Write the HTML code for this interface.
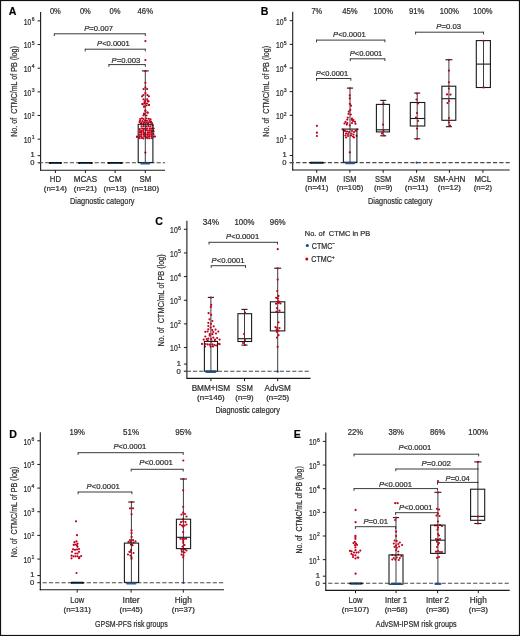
<!DOCTYPE html>
<html><head><meta charset="utf-8"><style>
html,body{margin:0;padding:0;background:#fff;overflow:hidden;}
svg{display:block;font-family:"Liberation Sans", sans-serif;will-change:transform;}
text{stroke:#2e2e2e;stroke-width:0.22px;}
</style></head><body>
<svg width="520" height="636" viewBox="0 0 520 636">
<rect x="0" y="0" width="520" height="636" fill="#fff"/>
<text x="8.8" y="14.8" font-size="10.6" font-weight="bold" fill="#000">A</text>
<line x1="40.60" y1="12.00" x2="40.60" y2="170.60" stroke="#1a1a1a" stroke-width="1.1" />
<line x1="37.60" y1="139.15" x2="40.60" y2="139.15" stroke="#1a1a1a" stroke-width="1" />
<text x="31.40" y="143.05" font-size="8.8" text-anchor="end" fill="#2e2e2e" textLength="7.6" lengthAdjust="spacingAndGlyphs">10</text>
<text x="31.75" y="139.35" font-size="5.1" text-anchor="start" fill="#2e2e2e">1</text>
<line x1="37.60" y1="115.50" x2="40.60" y2="115.50" stroke="#1a1a1a" stroke-width="1" />
<text x="31.40" y="119.40" font-size="8.8" text-anchor="end" fill="#2e2e2e" textLength="7.6" lengthAdjust="spacingAndGlyphs">10</text>
<text x="31.75" y="115.70" font-size="5.1" text-anchor="start" fill="#2e2e2e">2</text>
<line x1="37.60" y1="91.85" x2="40.60" y2="91.85" stroke="#1a1a1a" stroke-width="1" />
<text x="31.40" y="95.75" font-size="8.8" text-anchor="end" fill="#2e2e2e" textLength="7.6" lengthAdjust="spacingAndGlyphs">10</text>
<text x="31.75" y="92.05" font-size="5.1" text-anchor="start" fill="#2e2e2e">3</text>
<line x1="37.60" y1="68.20" x2="40.60" y2="68.20" stroke="#1a1a1a" stroke-width="1" />
<text x="31.40" y="72.10" font-size="8.8" text-anchor="end" fill="#2e2e2e" textLength="7.6" lengthAdjust="spacingAndGlyphs">10</text>
<text x="31.75" y="68.40" font-size="5.1" text-anchor="start" fill="#2e2e2e">4</text>
<line x1="37.60" y1="44.55" x2="40.60" y2="44.55" stroke="#1a1a1a" stroke-width="1" />
<text x="31.40" y="48.45" font-size="8.8" text-anchor="end" fill="#2e2e2e" textLength="7.6" lengthAdjust="spacingAndGlyphs">10</text>
<text x="31.75" y="44.75" font-size="5.1" text-anchor="start" fill="#2e2e2e">5</text>
<line x1="37.60" y1="20.90" x2="40.60" y2="20.90" stroke="#1a1a1a" stroke-width="1" />
<text x="31.40" y="24.80" font-size="8.8" text-anchor="end" fill="#2e2e2e" textLength="7.6" lengthAdjust="spacingAndGlyphs">10</text>
<text x="31.75" y="21.10" font-size="5.1" text-anchor="start" fill="#2e2e2e">6</text>
<line x1="37.60" y1="155.68" x2="40.60" y2="155.68" stroke="#1a1a1a" stroke-width="1" />
<text x="34.70" y="157.38" font-size="7.6" text-anchor="end" fill="#2e2e2e">1</text>
<line x1="37.60" y1="162.80" x2="40.60" y2="162.80" stroke="#1a1a1a" stroke-width="1" />
<text x="34.50" y="165.10" font-size="7.6" text-anchor="end" fill="#2e2e2e">0</text>
<text transform="translate(16.90,91.45) rotate(-90)" x="0" y="0" font-size="8.7" text-anchor="middle" fill="#2e2e2e" textLength="90.70" lengthAdjust="spacingAndGlyphs" style="white-space:pre">No. of  CTMC/mL of PB (log)</text>
<line x1="38.80" y1="162.80" x2="165.00" y2="162.80" stroke="#4a4a4a" stroke-width="1.1" stroke-dasharray="4.2 2.00"/>
<rect x="48.80" y="161.90" width="13.20" height="2.0" rx="0.9" fill="#0a0a0a"/>
<rect x="50.80" y="162.90" width="9.20" height="1.0" fill="#2c64a0" opacity="0.8"/>
<rect x="78.10" y="161.90" width="14.60" height="2.0" rx="0.9" fill="#0a0a0a"/>
<rect x="80.10" y="162.90" width="10.60" height="1.0" fill="#2c64a0" opacity="0.8"/>
<rect x="107.60" y="161.90" width="15.00" height="2.0" rx="0.9" fill="#0a0a0a"/>
<rect x="109.60" y="162.90" width="11.00" height="1.0" fill="#2c64a0" opacity="0.8"/>
<line x1="40.10" y1="170.20" x2="165.00" y2="170.20" stroke="#1a1a1a" stroke-width="1.1" />
<line x1="55.40" y1="170.20" x2="55.40" y2="173.00" stroke="#1a1a1a" stroke-width="1" />
<text x="55.40" y="182.00" font-size="8.2" text-anchor="middle" fill="#2e2e2e" textLength="11.20" lengthAdjust="spacingAndGlyphs" >HD</text>
<text x="55.40" y="190.50" font-size="7.4" text-anchor="middle" fill="#2e2e2e" textLength="23.20" lengthAdjust="spacingAndGlyphs" >(n=14)</text>
<line x1="85.40" y1="170.20" x2="85.40" y2="173.00" stroke="#1a1a1a" stroke-width="1" />
<text x="85.40" y="182.00" font-size="8.2" text-anchor="middle" fill="#2e2e2e" textLength="23.20" lengthAdjust="spacingAndGlyphs" >MCAS</text>
<text x="85.40" y="190.50" font-size="7.4" text-anchor="middle" fill="#2e2e2e" textLength="23.20" lengthAdjust="spacingAndGlyphs" >(n=21)</text>
<line x1="115.10" y1="170.20" x2="115.10" y2="173.00" stroke="#1a1a1a" stroke-width="1" />
<text x="115.10" y="182.00" font-size="8.2" text-anchor="middle" fill="#2e2e2e" textLength="13.00" lengthAdjust="spacingAndGlyphs" >CM</text>
<text x="115.10" y="190.50" font-size="7.4" text-anchor="middle" fill="#2e2e2e" textLength="23.20" lengthAdjust="spacingAndGlyphs" >(n=13)</text>
<line x1="145.30" y1="170.20" x2="145.30" y2="173.00" stroke="#1a1a1a" stroke-width="1" />
<text x="145.30" y="182.00" font-size="8.2" text-anchor="middle" fill="#2e2e2e" textLength="11.70" lengthAdjust="spacingAndGlyphs" >SM</text>
<text x="145.30" y="190.50" font-size="7.4" text-anchor="middle" fill="#2e2e2e" textLength="27.50" lengthAdjust="spacingAndGlyphs" >(n=180)</text>
<text x="102.30" y="204.00" font-size="8.9" text-anchor="middle" fill="#2e2e2e" textLength="64.50" lengthAdjust="spacingAndGlyphs" >Diagnostic category</text>
<text x="55.40" y="14.00" font-size="8.2" text-anchor="middle" fill="#2e2e2e" textLength="11.00" lengthAdjust="spacingAndGlyphs" >0%</text>
<text x="85.40" y="14.00" font-size="8.2" text-anchor="middle" fill="#2e2e2e" textLength="11.00" lengthAdjust="spacingAndGlyphs" >0%</text>
<text x="115.10" y="14.00" font-size="8.2" text-anchor="middle" fill="#2e2e2e" textLength="11.00" lengthAdjust="spacingAndGlyphs" >0%</text>
<text x="145.30" y="14.00" font-size="8.2" text-anchor="middle" fill="#2e2e2e" textLength="15.50" lengthAdjust="spacingAndGlyphs" >46%</text>
<line x1="54.30" y1="33.80" x2="145.30" y2="33.80" stroke="#3a3a3a" stroke-width="1" />
<line x1="54.30" y1="33.30" x2="54.30" y2="36.00" stroke="#3a3a3a" stroke-width="1" />
<line x1="145.30" y1="33.30" x2="145.30" y2="36.00" stroke="#3a3a3a" stroke-width="1" />
<text x="84.20" y="30.60" font-size="7.6" text-anchor="start" fill="#2e2e2e" textLength="28.90" lengthAdjust="spacingAndGlyphs" ><tspan font-style="italic">P</tspan>=0.007</text>
<line x1="85.20" y1="49.20" x2="145.30" y2="49.20" stroke="#3a3a3a" stroke-width="1" />
<line x1="85.20" y1="48.70" x2="85.20" y2="51.40" stroke="#3a3a3a" stroke-width="1" />
<line x1="145.30" y1="48.70" x2="145.30" y2="51.40" stroke="#3a3a3a" stroke-width="1" />
<text x="97.10" y="46.00" font-size="7.6" text-anchor="start" fill="#2e2e2e" textLength="32.70" lengthAdjust="spacingAndGlyphs" ><tspan font-style="italic">P</tspan>&lt;0.0001</text>
<line x1="108.90" y1="64.60" x2="145.30" y2="64.60" stroke="#3a3a3a" stroke-width="1" />
<line x1="108.90" y1="64.10" x2="108.90" y2="66.80" stroke="#3a3a3a" stroke-width="1" />
<line x1="145.30" y1="64.10" x2="145.30" y2="66.80" stroke="#3a3a3a" stroke-width="1" />
<text x="111.50" y="62.50" font-size="7.6" text-anchor="start" fill="#2e2e2e" textLength="28.90" lengthAdjust="spacingAndGlyphs" ><tspan font-style="italic">P</tspan>=0.003</text>
<line x1="145.30" y1="70.90" x2="145.30" y2="124.30" stroke="#262626" stroke-width="0.9" />
<line x1="141.90" y1="70.90" x2="148.70" y2="70.90" stroke="#1a1a1a" stroke-width="1.1" />
<circle cx="145.40" cy="41.10" r="1.1" fill="#c4001c"/>
<circle cx="145.40" cy="60.10" r="1.1" fill="#c4001c"/>
<circle cx="145.40" cy="71.20" r="1.1" fill="#c4001c"/>
<circle cx="145.40" cy="82.80" r="1.1" fill="#c4001c"/>
<circle cx="145.40" cy="87.30" r="1.1" fill="#c4001c"/>
<circle cx="143.60" cy="89.10" r="1.1" fill="#c4001c"/>
<circle cx="147.10" cy="89.10" r="1.1" fill="#c4001c"/>
<circle cx="145.40" cy="93.20" r="1.1" fill="#c4001c"/>
<circle cx="143.40" cy="95.10" r="1.1" fill="#c4001c"/>
<circle cx="147.40" cy="95.10" r="1.1" fill="#c4001c"/>
<circle cx="142.10" cy="96.30" r="1.1" fill="#c4001c"/>
<circle cx="148.90" cy="96.30" r="1.1" fill="#c4001c"/>
<circle cx="143.50" cy="99.30" r="1.1" fill="#c4001c"/>
<circle cx="147.20" cy="99.30" r="1.1" fill="#c4001c"/>
<circle cx="148.50" cy="101.40" r="1.1" fill="#c4001c"/>
<circle cx="144.50" cy="102.20" r="1.1" fill="#c4001c"/>
<circle cx="142.50" cy="104.20" r="1.1" fill="#c4001c"/>
<circle cx="148.90" cy="104.80" r="1.1" fill="#c4001c"/>
<circle cx="144.20" cy="106.50" r="1.1" fill="#c4001c"/>
<circle cx="146.50" cy="105.50" r="1.1" fill="#c4001c"/>
<circle cx="145.40" cy="110.80" r="1.1" fill="#c4001c"/>
<circle cx="147.80" cy="112.70" r="1.1" fill="#c4001c"/>
<circle cx="144.00" cy="113.60" r="1.1" fill="#c4001c"/>
<circle cx="145.40" cy="152.60" r="1.1" fill="#c4001c"/>
<circle cx="137.00" cy="136.50" r="1.1" fill="#c4001c"/>
<circle cx="154.00" cy="136.50" r="1.1" fill="#c4001c"/>
<circle cx="153.30" cy="128.50" r="1.1" fill="#c4001c"/>
<circle cx="153.30" cy="131.00" r="1.1" fill="#c4001c"/>
<circle cx="145.30" cy="100.50" r="1.1" fill="#c4001c"/>
<circle cx="147.80" cy="101.20" r="1.1" fill="#c4001c"/>
<circle cx="142.50" cy="104.00" r="1.1" fill="#c4001c"/>
<circle cx="144.50" cy="103.50" r="1.1" fill="#c4001c"/>
<circle cx="147.00" cy="103.50" r="1.1" fill="#c4001c"/>
<circle cx="149.00" cy="105.00" r="1.1" fill="#c4001c"/>
<circle cx="144.00" cy="106.70" r="1.1" fill="#c4001c"/>
<circle cx="145.30" cy="110.60" r="1.1" fill="#c4001c"/>
<circle cx="147.30" cy="112.50" r="1.1" fill="#c4001c"/>
<circle cx="144.50" cy="114.20" r="1.1" fill="#c4001c"/>
<circle cx="143.50" cy="115.30" r="1.1" fill="#c4001c"/>
<circle cx="146.50" cy="115.50" r="1.1" fill="#c4001c"/>
<circle cx="142.00" cy="118.30" r="1.1" fill="#c4001c"/>
<circle cx="140.20" cy="119.00" r="1.1" fill="#c4001c"/>
<circle cx="143.50" cy="119.00" r="1.1" fill="#c4001c"/>
<circle cx="146.50" cy="118.50" r="1.1" fill="#c4001c"/>
<circle cx="148.80" cy="118.80" r="1.1" fill="#c4001c"/>
<circle cx="150.50" cy="119.30" r="1.1" fill="#c4001c"/>
<circle cx="140.00" cy="120.80" r="1.1" fill="#c4001c"/>
<circle cx="142.50" cy="121.00" r="1.1" fill="#c4001c"/>
<circle cx="145.00" cy="120.50" r="1.1" fill="#c4001c"/>
<circle cx="147.00" cy="120.80" r="1.1" fill="#c4001c"/>
<circle cx="149.50" cy="121.00" r="1.1" fill="#c4001c"/>
<circle cx="151.00" cy="121.50" r="1.1" fill="#c4001c"/>
<circle cx="139.50" cy="122.00" r="1.1" fill="#c4001c"/>
<circle cx="141.50" cy="122.50" r="1.1" fill="#c4001c"/>
<circle cx="144.00" cy="122.30" r="1.1" fill="#c4001c"/>
<circle cx="146.50" cy="122.50" r="1.1" fill="#c4001c"/>
<circle cx="148.50" cy="122.50" r="1.1" fill="#c4001c"/>
<circle cx="150.50" cy="122.50" r="1.1" fill="#c4001c"/>
<circle cx="152.00" cy="123.00" r="1.1" fill="#c4001c"/>
<circle cx="141.00" cy="123.50" r="1.1" fill="#c4001c"/>
<circle cx="143.50" cy="123.80" r="1.1" fill="#c4001c"/>
<circle cx="148.00" cy="123.80" r="1.1" fill="#c4001c"/>
<circle cx="141.50" cy="126.40" r="1.1" fill="#c4001c"/>
<circle cx="143.60" cy="126.20" r="1.1" fill="#c4001c"/>
<circle cx="146.00" cy="126.30" r="1.1" fill="#c4001c"/>
<circle cx="148.20" cy="126.20" r="1.1" fill="#c4001c"/>
<circle cx="150.30" cy="126.40" r="1.1" fill="#c4001c"/>
<circle cx="152.50" cy="125.60" r="1.1" fill="#c4001c"/>
<circle cx="137.00" cy="137.00" r="1.1" fill="#c4001c"/>
<circle cx="155.00" cy="136.50" r="1.1" fill="#c4001c"/>
<circle cx="153.50" cy="128.50" r="1.1" fill="#c4001c"/>
<circle cx="153.50" cy="131.50" r="1.1" fill="#c4001c"/>
<circle cx="153.50" cy="134.00" r="1.1" fill="#c4001c"/>
<circle cx="139.82" cy="129.05" r="1.1" fill="#c4001c"/>
<circle cx="142.12" cy="128.63" r="1.1" fill="#c4001c"/>
<circle cx="143.91" cy="128.96" r="1.1" fill="#c4001c"/>
<circle cx="145.78" cy="128.49" r="1.1" fill="#c4001c"/>
<circle cx="147.22" cy="128.71" r="1.1" fill="#c4001c"/>
<circle cx="149.75" cy="128.60" r="1.1" fill="#c4001c"/>
<circle cx="151.50" cy="128.65" r="1.1" fill="#c4001c"/>
<circle cx="140.08" cy="131.01" r="1.1" fill="#c4001c"/>
<circle cx="141.67" cy="131.05" r="1.1" fill="#c4001c"/>
<circle cx="143.35" cy="130.90" r="1.1" fill="#c4001c"/>
<circle cx="145.95" cy="130.37" r="1.1" fill="#c4001c"/>
<circle cx="147.76" cy="130.70" r="1.1" fill="#c4001c"/>
<circle cx="149.91" cy="130.42" r="1.1" fill="#c4001c"/>
<circle cx="151.53" cy="130.96" r="1.1" fill="#c4001c"/>
<circle cx="139.91" cy="132.35" r="1.1" fill="#c4001c"/>
<circle cx="141.42" cy="132.85" r="1.1" fill="#c4001c"/>
<circle cx="143.68" cy="132.90" r="1.1" fill="#c4001c"/>
<circle cx="145.36" cy="132.75" r="1.1" fill="#c4001c"/>
<circle cx="147.85" cy="132.84" r="1.1" fill="#c4001c"/>
<circle cx="149.16" cy="132.40" r="1.1" fill="#c4001c"/>
<circle cx="151.14" cy="132.70" r="1.1" fill="#c4001c"/>
<circle cx="139.68" cy="134.72" r="1.1" fill="#c4001c"/>
<circle cx="141.65" cy="134.57" r="1.1" fill="#c4001c"/>
<circle cx="143.99" cy="134.14" r="1.1" fill="#c4001c"/>
<circle cx="145.70" cy="134.72" r="1.1" fill="#c4001c"/>
<circle cx="147.62" cy="134.24" r="1.1" fill="#c4001c"/>
<circle cx="149.36" cy="134.58" r="1.1" fill="#c4001c"/>
<circle cx="151.25" cy="134.43" r="1.1" fill="#c4001c"/>
<circle cx="139.84" cy="136.24" r="1.1" fill="#c4001c"/>
<circle cx="141.45" cy="136.33" r="1.1" fill="#c4001c"/>
<circle cx="144.03" cy="136.06" r="1.1" fill="#c4001c"/>
<circle cx="145.52" cy="136.53" r="1.1" fill="#c4001c"/>
<circle cx="147.66" cy="136.02" r="1.1" fill="#c4001c"/>
<circle cx="149.16" cy="136.40" r="1.1" fill="#c4001c"/>
<circle cx="151.38" cy="136.17" r="1.1" fill="#c4001c"/>
<circle cx="139.62" cy="138.16" r="1.1" fill="#c4001c"/>
<circle cx="141.93" cy="137.90" r="1.1" fill="#c4001c"/>
<circle cx="143.36" cy="138.44" r="1.1" fill="#c4001c"/>
<circle cx="145.98" cy="137.67" r="1.1" fill="#c4001c"/>
<circle cx="147.65" cy="138.20" r="1.1" fill="#c4001c"/>
<circle cx="149.47" cy="138.24" r="1.1" fill="#c4001c"/>
<circle cx="151.87" cy="138.12" r="1.1" fill="#c4001c"/>
<rect x="138.20" y="124.30" width="14.70" height="38.20" fill="none" stroke="#1a1a1a" stroke-width="1.1"/>
<line x1="145.30" y1="124.30" x2="145.30" y2="162.50" stroke="#262626" stroke-width="0.9" />
<rect x="140.30" y="162.20" width="10.00" height="2.3" rx="1" fill="#1d4a80" opacity="0.9"/>
<text x="260.7" y="14.6" font-size="10.6" font-weight="bold" fill="#000">B</text>
<line x1="292.70" y1="11.70" x2="292.70" y2="170.60" stroke="#1a1a1a" stroke-width="1.1" />
<line x1="289.70" y1="138.95" x2="292.70" y2="138.95" stroke="#1a1a1a" stroke-width="1" />
<text x="283.50" y="142.85" font-size="8.8" text-anchor="end" fill="#2e2e2e" textLength="7.6" lengthAdjust="spacingAndGlyphs">10</text>
<text x="283.85" y="139.15" font-size="5.1" text-anchor="start" fill="#2e2e2e">1</text>
<line x1="289.70" y1="115.30" x2="292.70" y2="115.30" stroke="#1a1a1a" stroke-width="1" />
<text x="283.50" y="119.20" font-size="8.8" text-anchor="end" fill="#2e2e2e" textLength="7.6" lengthAdjust="spacingAndGlyphs">10</text>
<text x="283.85" y="115.50" font-size="5.1" text-anchor="start" fill="#2e2e2e">2</text>
<line x1="289.70" y1="91.65" x2="292.70" y2="91.65" stroke="#1a1a1a" stroke-width="1" />
<text x="283.50" y="95.55" font-size="8.8" text-anchor="end" fill="#2e2e2e" textLength="7.6" lengthAdjust="spacingAndGlyphs">10</text>
<text x="283.85" y="91.85" font-size="5.1" text-anchor="start" fill="#2e2e2e">3</text>
<line x1="289.70" y1="68.00" x2="292.70" y2="68.00" stroke="#1a1a1a" stroke-width="1" />
<text x="283.50" y="71.90" font-size="8.8" text-anchor="end" fill="#2e2e2e" textLength="7.6" lengthAdjust="spacingAndGlyphs">10</text>
<text x="283.85" y="68.20" font-size="5.1" text-anchor="start" fill="#2e2e2e">4</text>
<line x1="289.70" y1="44.35" x2="292.70" y2="44.35" stroke="#1a1a1a" stroke-width="1" />
<text x="283.50" y="48.25" font-size="8.8" text-anchor="end" fill="#2e2e2e" textLength="7.6" lengthAdjust="spacingAndGlyphs">10</text>
<text x="283.85" y="44.55" font-size="5.1" text-anchor="start" fill="#2e2e2e">5</text>
<line x1="289.70" y1="20.70" x2="292.70" y2="20.70" stroke="#1a1a1a" stroke-width="1" />
<text x="283.50" y="24.60" font-size="8.8" text-anchor="end" fill="#2e2e2e" textLength="7.6" lengthAdjust="spacingAndGlyphs">10</text>
<text x="283.85" y="20.90" font-size="5.1" text-anchor="start" fill="#2e2e2e">6</text>
<line x1="289.70" y1="155.48" x2="292.70" y2="155.48" stroke="#1a1a1a" stroke-width="1" />
<text x="286.80" y="157.18" font-size="7.6" text-anchor="end" fill="#2e2e2e">1</text>
<line x1="289.70" y1="162.60" x2="292.70" y2="162.60" stroke="#1a1a1a" stroke-width="1" />
<text x="286.60" y="164.90" font-size="7.6" text-anchor="end" fill="#2e2e2e">0</text>
<text transform="translate(269.00,91.30) rotate(-90)" x="0" y="0" font-size="8.7" text-anchor="middle" fill="#2e2e2e" textLength="90.70" lengthAdjust="spacingAndGlyphs" style="white-space:pre">No. of  CTMC/mL of PB (log)</text>
<line x1="289.75" y1="162.60" x2="509.70" y2="162.60" stroke="#4a4a4a" stroke-width="1.1" stroke-dasharray="4.2 2.15"/>
<line x1="292.20" y1="170.00" x2="509.70" y2="170.00" stroke="#1a1a1a" stroke-width="1.1" />
<line x1="316.70" y1="170.00" x2="316.70" y2="172.80" stroke="#1a1a1a" stroke-width="1" />
<text x="316.70" y="181.50" font-size="8.2" text-anchor="middle" fill="#2e2e2e" textLength="19.20" lengthAdjust="spacingAndGlyphs" >BMM</text>
<text x="316.70" y="190.30" font-size="7.4" text-anchor="middle" fill="#2e2e2e" textLength="23.20" lengthAdjust="spacingAndGlyphs" >(n=41)</text>
<line x1="349.90" y1="170.00" x2="349.90" y2="172.80" stroke="#1a1a1a" stroke-width="1" />
<text x="349.90" y="181.50" font-size="8.2" text-anchor="middle" fill="#2e2e2e" textLength="13.20" lengthAdjust="spacingAndGlyphs" >ISM</text>
<text x="349.90" y="190.30" font-size="7.4" text-anchor="middle" fill="#2e2e2e" textLength="27.00" lengthAdjust="spacingAndGlyphs" >(n=105)</text>
<line x1="383.20" y1="170.00" x2="383.20" y2="172.80" stroke="#1a1a1a" stroke-width="1" />
<text x="383.20" y="181.50" font-size="8.2" text-anchor="middle" fill="#2e2e2e" textLength="16.20" lengthAdjust="spacingAndGlyphs" >SSM</text>
<text x="383.20" y="190.30" font-size="7.4" text-anchor="middle" fill="#2e2e2e" textLength="18.50" lengthAdjust="spacingAndGlyphs" >(n=9)</text>
<line x1="416.60" y1="170.00" x2="416.60" y2="172.80" stroke="#1a1a1a" stroke-width="1" />
<text x="416.60" y="181.50" font-size="8.2" text-anchor="middle" fill="#2e2e2e" textLength="16.80" lengthAdjust="spacingAndGlyphs" >ASM</text>
<text x="416.60" y="190.30" font-size="7.4" text-anchor="middle" fill="#2e2e2e" textLength="23.60" lengthAdjust="spacingAndGlyphs" >(n=11)</text>
<line x1="449.40" y1="170.00" x2="449.40" y2="172.80" stroke="#1a1a1a" stroke-width="1" />
<text x="449.40" y="181.50" font-size="8.2" text-anchor="middle" fill="#2e2e2e" textLength="31.90" lengthAdjust="spacingAndGlyphs" >SM-AHN</text>
<text x="449.40" y="190.30" font-size="7.4" text-anchor="middle" fill="#2e2e2e" textLength="23.10" lengthAdjust="spacingAndGlyphs" >(n=12)</text>
<line x1="482.90" y1="170.00" x2="482.90" y2="172.80" stroke="#1a1a1a" stroke-width="1" />
<text x="482.90" y="181.50" font-size="8.2" text-anchor="middle" fill="#2e2e2e" textLength="16.80" lengthAdjust="spacingAndGlyphs" >MCL</text>
<text x="482.90" y="190.30" font-size="7.4" text-anchor="middle" fill="#2e2e2e" textLength="18.50" lengthAdjust="spacingAndGlyphs" >(n=2)</text>
<text x="400.20" y="203.60" font-size="8.9" text-anchor="middle" fill="#2e2e2e" textLength="64.20" lengthAdjust="spacingAndGlyphs" >Diagnostic category</text>
<text x="316.70" y="14.40" font-size="8.2" text-anchor="middle" fill="#2e2e2e" textLength="10.60" lengthAdjust="spacingAndGlyphs" >7%</text>
<text x="349.90" y="14.40" font-size="8.2" text-anchor="middle" fill="#2e2e2e" textLength="15.40" lengthAdjust="spacingAndGlyphs" >45%</text>
<text x="383.20" y="14.40" font-size="8.2" text-anchor="middle" fill="#2e2e2e" textLength="19.30" lengthAdjust="spacingAndGlyphs" >100%</text>
<text x="416.60" y="14.40" font-size="8.2" text-anchor="middle" fill="#2e2e2e" textLength="15.40" lengthAdjust="spacingAndGlyphs" >91%</text>
<text x="449.40" y="14.40" font-size="8.2" text-anchor="middle" fill="#2e2e2e" textLength="19.30" lengthAdjust="spacingAndGlyphs" >100%</text>
<text x="482.90" y="14.40" font-size="8.2" text-anchor="middle" fill="#2e2e2e" textLength="19.30" lengthAdjust="spacingAndGlyphs" >100%</text>
<line x1="316.50" y1="40.10" x2="384.90" y2="40.10" stroke="#3a3a3a" stroke-width="1" />
<line x1="316.50" y1="39.60" x2="316.50" y2="42.30" stroke="#3a3a3a" stroke-width="1" />
<line x1="384.90" y1="39.60" x2="384.90" y2="42.30" stroke="#3a3a3a" stroke-width="1" />
<text x="333.10" y="37.30" font-size="7.6" text-anchor="start" fill="#2e2e2e" textLength="32.60" lengthAdjust="spacingAndGlyphs" ><tspan font-style="italic">P</tspan>&lt;0.0001</text>
<line x1="350.30" y1="58.80" x2="384.90" y2="58.80" stroke="#3a3a3a" stroke-width="1" />
<line x1="350.30" y1="58.30" x2="350.30" y2="61.00" stroke="#3a3a3a" stroke-width="1" />
<line x1="384.90" y1="58.30" x2="384.90" y2="61.00" stroke="#3a3a3a" stroke-width="1" />
<text x="349.70" y="55.80" font-size="7.6" text-anchor="start" fill="#2e2e2e" textLength="32.60" lengthAdjust="spacingAndGlyphs" ><tspan font-style="italic">P</tspan>&lt;0.0001</text>
<line x1="316.50" y1="78.50" x2="350.80" y2="78.50" stroke="#3a3a3a" stroke-width="1" />
<line x1="316.50" y1="78.00" x2="316.50" y2="80.70" stroke="#3a3a3a" stroke-width="1" />
<line x1="350.80" y1="78.00" x2="350.80" y2="80.70" stroke="#3a3a3a" stroke-width="1" />
<text x="315.80" y="75.80" font-size="7.6" text-anchor="start" fill="#2e2e2e" textLength="32.40" lengthAdjust="spacingAndGlyphs" ><tspan font-style="italic">P</tspan>&lt;0.0001</text>
<line x1="415.60" y1="32.20" x2="483.50" y2="32.20" stroke="#3a3a3a" stroke-width="1" />
<line x1="415.60" y1="31.70" x2="415.60" y2="34.40" stroke="#3a3a3a" stroke-width="1" />
<line x1="483.50" y1="31.70" x2="483.50" y2="34.40" stroke="#3a3a3a" stroke-width="1" />
<text x="436.20" y="29.40" font-size="7.6" text-anchor="start" fill="#2e2e2e" textLength="24.90" lengthAdjust="spacingAndGlyphs" ><tspan font-style="italic">P</tspan>=0.03</text>
<rect x="309.60" y="161.70" width="14.20" height="2.0" rx="0.9" fill="#0a0a0a"/>
<rect x="311.60" y="162.70" width="10.20" height="1.0" fill="#2c64a0" opacity="0.8"/>
<circle cx="316.90" cy="125.80" r="1.1" fill="#c4001c"/>
<circle cx="316.90" cy="132.70" r="1.1" fill="#c4001c"/>
<circle cx="316.90" cy="136.00" r="1.1" fill="#c4001c"/>
<line x1="350.00" y1="88.10" x2="350.00" y2="129.10" stroke="#262626" stroke-width="0.9" />
<line x1="346.90" y1="88.10" x2="353.10" y2="88.10" stroke="#1a1a1a" stroke-width="1.1" />
<circle cx="349.80" cy="88.30" r="1.1" fill="#c4001c"/>
<circle cx="349.80" cy="95.40" r="1.1" fill="#c4001c"/>
<circle cx="349.80" cy="98.40" r="1.1" fill="#c4001c"/>
<circle cx="349.80" cy="103.90" r="1.1" fill="#c4001c"/>
<circle cx="351.00" cy="105.70" r="1.1" fill="#c4001c"/>
<circle cx="350.30" cy="109.90" r="1.1" fill="#c4001c"/>
<circle cx="348.80" cy="111.70" r="1.1" fill="#c4001c"/>
<circle cx="348.50" cy="114.00" r="1.1" fill="#c4001c"/>
<circle cx="350.80" cy="114.50" r="1.1" fill="#c4001c"/>
<circle cx="347.80" cy="117.60" r="1.1" fill="#c4001c"/>
<circle cx="352.00" cy="118.50" r="1.1" fill="#c4001c"/>
<circle cx="347.30" cy="119.60" r="1.1" fill="#c4001c"/>
<circle cx="353.50" cy="120.00" r="1.1" fill="#c4001c"/>
<circle cx="345.50" cy="121.80" r="1.1" fill="#c4001c"/>
<circle cx="355.00" cy="121.80" r="1.1" fill="#c4001c"/>
<circle cx="344.50" cy="123.50" r="1.1" fill="#c4001c"/>
<circle cx="347.20" cy="123.20" r="1.1" fill="#c4001c"/>
<circle cx="352.00" cy="123.00" r="1.1" fill="#c4001c"/>
<circle cx="355.50" cy="123.80" r="1.1" fill="#c4001c"/>
<circle cx="351.80" cy="119.80" r="1.1" fill="#c4001c"/>
<circle cx="353.00" cy="120.90" r="1.1" fill="#c4001c"/>
<circle cx="346.80" cy="124.60" r="1.1" fill="#c4001c"/>
<circle cx="349.80" cy="125.30" r="1.1" fill="#c4001c"/>
<circle cx="342.50" cy="129.30" r="1.1" fill="#c4001c"/>
<circle cx="357.50" cy="129.30" r="1.1" fill="#c4001c"/>
<circle cx="345.00" cy="131.00" r="1.1" fill="#c4001c"/>
<circle cx="347.00" cy="131.50" r="1.1" fill="#c4001c"/>
<circle cx="349.00" cy="132.00" r="1.1" fill="#c4001c"/>
<circle cx="352.00" cy="131.00" r="1.1" fill="#c4001c"/>
<circle cx="354.00" cy="132.00" r="1.1" fill="#c4001c"/>
<circle cx="346.00" cy="133.50" r="1.1" fill="#c4001c"/>
<circle cx="348.00" cy="134.00" r="1.1" fill="#c4001c"/>
<circle cx="351.50" cy="133.50" r="1.1" fill="#c4001c"/>
<circle cx="353.50" cy="134.50" r="1.1" fill="#c4001c"/>
<circle cx="345.50" cy="135.50" r="1.1" fill="#c4001c"/>
<circle cx="348.00" cy="136.00" r="1.1" fill="#c4001c"/>
<circle cx="351.00" cy="135.50" r="1.1" fill="#c4001c"/>
<circle cx="353.00" cy="136.50" r="1.1" fill="#c4001c"/>
<circle cx="356.50" cy="135.80" r="1.1" fill="#c4001c"/>
<circle cx="346.00" cy="137.50" r="1.1" fill="#c4001c"/>
<circle cx="354.00" cy="137.50" r="1.1" fill="#c4001c"/>
<circle cx="344.50" cy="130.50" r="1.1" fill="#c4001c"/>
<circle cx="355.50" cy="130.80" r="1.1" fill="#c4001c"/>
<circle cx="349.80" cy="152.30" r="1.1" fill="#c4001c"/>
<rect x="343.40" y="129.10" width="13.50" height="33.10" fill="none" stroke="#1a1a1a" stroke-width="1.1"/>
<line x1="350.00" y1="129.10" x2="350.00" y2="162.20" stroke="#262626" stroke-width="0.9" />
<rect x="345.00" y="162.00" width="10.00" height="2.3" rx="1" fill="#1d4a80" opacity="0.9"/>
<line x1="383.20" y1="100.40" x2="383.20" y2="135.80" stroke="#262626" stroke-width="0.9" />
<line x1="380.20" y1="100.40" x2="386.20" y2="100.40" stroke="#1a1a1a" stroke-width="1.1" />
<line x1="380.20" y1="135.80" x2="386.20" y2="135.80" stroke="#1a1a1a" stroke-width="1.1" />
<rect x="376.40" y="104.40" width="13.10" height="27.50" fill="none" stroke="#1a1a1a" stroke-width="1.1"/>
<line x1="376.40" y1="129.80" x2="389.50" y2="129.80" stroke="#1a1a1a" stroke-width="1.1" />
<circle cx="383.50" cy="103.00" r="1.1" fill="#c4001c"/>
<circle cx="383.00" cy="124.60" r="1.1" fill="#c4001c"/>
<circle cx="383.50" cy="130.20" r="1.1" fill="#c4001c"/>
<circle cx="382.00" cy="133.40" r="1.1" fill="#c4001c"/>
<circle cx="384.00" cy="135.50" r="1.1" fill="#c4001c"/>
<line x1="417.20" y1="93.10" x2="417.20" y2="138.80" stroke="#262626" stroke-width="0.9" />
<line x1="414.20" y1="93.10" x2="420.20" y2="93.10" stroke="#1a1a1a" stroke-width="1.1" />
<line x1="414.20" y1="138.80" x2="420.20" y2="138.80" stroke="#1a1a1a" stroke-width="1.1" />
<rect x="410.30" y="102.50" width="14.50" height="23.50" fill="none" stroke="#1a1a1a" stroke-width="1.1"/>
<line x1="410.30" y1="118.50" x2="424.80" y2="118.50" stroke="#1a1a1a" stroke-width="1.1" />
<circle cx="417.00" cy="93.50" r="1.1" fill="#c4001c"/>
<circle cx="416.50" cy="99.50" r="1.1" fill="#c4001c"/>
<circle cx="418.00" cy="103.50" r="1.1" fill="#c4001c"/>
<circle cx="417.00" cy="113.00" r="1.1" fill="#c4001c"/>
<circle cx="416.00" cy="117.50" r="1.1" fill="#c4001c"/>
<circle cx="418.00" cy="121.00" r="1.1" fill="#c4001c"/>
<circle cx="417.00" cy="128.50" r="1.1" fill="#c4001c"/>
<circle cx="417.00" cy="138.80" r="1.1" fill="#c4001c"/>
<circle cx="416.60" cy="162.60" r="1.1" fill="#0b4a8a"/>
<line x1="448.90" y1="59.75" x2="448.90" y2="126.70" stroke="#262626" stroke-width="0.9" />
<line x1="445.40" y1="59.75" x2="452.40" y2="59.75" stroke="#1a1a1a" stroke-width="1.1" />
<line x1="445.90" y1="126.70" x2="451.90" y2="126.70" stroke="#1a1a1a" stroke-width="1.1" />
<rect x="441.90" y="86.20" width="13.90" height="34.10" fill="none" stroke="#1a1a1a" stroke-width="1.1"/>
<line x1="441.90" y1="98.70" x2="455.80" y2="98.70" stroke="#1a1a1a" stroke-width="1.1" />
<circle cx="448.90" cy="59.75" r="1.1" fill="#c4001c"/>
<circle cx="448.90" cy="70.60" r="1.1" fill="#c4001c"/>
<circle cx="448.90" cy="82.25" r="1.1" fill="#c4001c"/>
<circle cx="448.90" cy="88.50" r="1.1" fill="#c4001c"/>
<circle cx="447.00" cy="94.40" r="1.1" fill="#c4001c"/>
<circle cx="450.50" cy="94.60" r="1.1" fill="#c4001c"/>
<circle cx="449.00" cy="101.00" r="1.1" fill="#c4001c"/>
<circle cx="447.50" cy="103.00" r="1.1" fill="#c4001c"/>
<circle cx="449.00" cy="118.00" r="1.1" fill="#c4001c"/>
<circle cx="449.00" cy="122.50" r="1.1" fill="#c4001c"/>
<circle cx="450.00" cy="125.50" r="1.1" fill="#c4001c"/>
<rect x="476.30" y="40.60" width="14.10" height="46.90" fill="none" stroke="#1a1a1a" stroke-width="1.1"/>
<line x1="476.30" y1="64.10" x2="490.40" y2="64.10" stroke="#1a1a1a" stroke-width="1.1" />
<line x1="483.50" y1="40.60" x2="483.50" y2="87.50" stroke="#262626" stroke-width="0.9" />
<circle cx="483.50" cy="40.80" r="1.1" fill="#c4001c"/>
<circle cx="483.50" cy="87.40" r="1.1" fill="#c4001c"/>
<text x="155.2" y="225.4" font-size="10.6" font-weight="bold" fill="#000">C</text>
<line x1="186.90" y1="220.80" x2="186.90" y2="378.60" stroke="#1a1a1a" stroke-width="1.1" />
<line x1="183.90" y1="347.55" x2="186.90" y2="347.55" stroke="#1a1a1a" stroke-width="1" />
<text x="177.70" y="351.45" font-size="8.8" text-anchor="end" fill="#2e2e2e" textLength="7.6" lengthAdjust="spacingAndGlyphs">10</text>
<text x="178.05" y="347.75" font-size="5.1" text-anchor="start" fill="#2e2e2e">1</text>
<line x1="183.90" y1="323.90" x2="186.90" y2="323.90" stroke="#1a1a1a" stroke-width="1" />
<text x="177.70" y="327.80" font-size="8.8" text-anchor="end" fill="#2e2e2e" textLength="7.6" lengthAdjust="spacingAndGlyphs">10</text>
<text x="178.05" y="324.10" font-size="5.1" text-anchor="start" fill="#2e2e2e">2</text>
<line x1="183.90" y1="300.25" x2="186.90" y2="300.25" stroke="#1a1a1a" stroke-width="1" />
<text x="177.70" y="304.15" font-size="8.8" text-anchor="end" fill="#2e2e2e" textLength="7.6" lengthAdjust="spacingAndGlyphs">10</text>
<text x="178.05" y="300.45" font-size="5.1" text-anchor="start" fill="#2e2e2e">3</text>
<line x1="183.90" y1="276.60" x2="186.90" y2="276.60" stroke="#1a1a1a" stroke-width="1" />
<text x="177.70" y="280.50" font-size="8.8" text-anchor="end" fill="#2e2e2e" textLength="7.6" lengthAdjust="spacingAndGlyphs">10</text>
<text x="178.05" y="276.80" font-size="5.1" text-anchor="start" fill="#2e2e2e">4</text>
<line x1="183.90" y1="252.95" x2="186.90" y2="252.95" stroke="#1a1a1a" stroke-width="1" />
<text x="177.70" y="256.85" font-size="8.8" text-anchor="end" fill="#2e2e2e" textLength="7.6" lengthAdjust="spacingAndGlyphs">10</text>
<text x="178.05" y="253.15" font-size="5.1" text-anchor="start" fill="#2e2e2e">5</text>
<line x1="183.90" y1="229.30" x2="186.90" y2="229.30" stroke="#1a1a1a" stroke-width="1" />
<text x="177.70" y="233.20" font-size="8.8" text-anchor="end" fill="#2e2e2e" textLength="7.6" lengthAdjust="spacingAndGlyphs">10</text>
<text x="178.05" y="229.50" font-size="5.1" text-anchor="start" fill="#2e2e2e">6</text>
<line x1="183.90" y1="364.08" x2="186.90" y2="364.08" stroke="#1a1a1a" stroke-width="1" />
<text x="181.00" y="365.78" font-size="7.6" text-anchor="end" fill="#2e2e2e">1</text>
<line x1="183.90" y1="371.20" x2="186.90" y2="371.20" stroke="#1a1a1a" stroke-width="1" />
<text x="180.80" y="373.50" font-size="7.6" text-anchor="end" fill="#2e2e2e">0</text>
<text transform="translate(163.50,300.40) rotate(-90)" x="0" y="0" font-size="8.7" text-anchor="middle" fill="#2e2e2e" textLength="92.00" lengthAdjust="spacingAndGlyphs" style="white-space:pre">No. of  CTMC/mL of PB (log)</text>
<line x1="186.80" y1="371.20" x2="310.60" y2="371.20" stroke="#4a4a4a" stroke-width="1.1" stroke-dasharray="4.2 2.00"/>
<line x1="186.40" y1="378.40" x2="310.60" y2="378.40" stroke="#1a1a1a" stroke-width="1.1" />
<line x1="210.90" y1="378.40" x2="210.90" y2="381.20" stroke="#1a1a1a" stroke-width="1" />
<text x="210.90" y="391.20" font-size="8.2" text-anchor="middle" fill="#2e2e2e" textLength="38.50" lengthAdjust="spacingAndGlyphs" >BMM+ISM</text>
<text x="210.90" y="400.20" font-size="7.4" text-anchor="middle" fill="#2e2e2e" textLength="27.70" lengthAdjust="spacingAndGlyphs" >(n=146)</text>
<line x1="244.50" y1="378.40" x2="244.50" y2="381.20" stroke="#1a1a1a" stroke-width="1" />
<text x="244.50" y="391.20" font-size="8.2" text-anchor="middle" fill="#2e2e2e" textLength="16.60" lengthAdjust="spacingAndGlyphs" >SSM</text>
<text x="244.50" y="400.20" font-size="7.4" text-anchor="middle" fill="#2e2e2e" textLength="18.40" lengthAdjust="spacingAndGlyphs" >(n=9)</text>
<line x1="277.70" y1="378.40" x2="277.70" y2="381.20" stroke="#1a1a1a" stroke-width="1" />
<text x="277.70" y="391.20" font-size="8.2" text-anchor="middle" fill="#2e2e2e" textLength="26.20" lengthAdjust="spacingAndGlyphs" >AdvSM</text>
<text x="277.70" y="400.20" font-size="7.4" text-anchor="middle" fill="#2e2e2e" textLength="23.00" lengthAdjust="spacingAndGlyphs" >(n=25)</text>
<text x="247.70" y="412.50" font-size="8.9" text-anchor="middle" fill="#2e2e2e" textLength="64.60" lengthAdjust="spacingAndGlyphs" >Diagnostic category</text>
<text x="210.90" y="225.00" font-size="8.2" text-anchor="middle" fill="#2e2e2e" textLength="16.40" lengthAdjust="spacingAndGlyphs" >34%</text>
<text x="244.50" y="225.00" font-size="8.2" text-anchor="middle" fill="#2e2e2e" textLength="19.90" lengthAdjust="spacingAndGlyphs" >100%</text>
<text x="277.70" y="225.00" font-size="8.2" text-anchor="middle" fill="#2e2e2e" textLength="15.90" lengthAdjust="spacingAndGlyphs" >96%</text>
<line x1="209.00" y1="242.30" x2="277.50" y2="242.30" stroke="#3a3a3a" stroke-width="1" />
<line x1="209.00" y1="241.80" x2="209.00" y2="244.50" stroke="#3a3a3a" stroke-width="1" />
<line x1="277.50" y1="241.80" x2="277.50" y2="244.50" stroke="#3a3a3a" stroke-width="1" />
<text x="226.00" y="238.80" font-size="7.6" text-anchor="start" fill="#2e2e2e" textLength="33.20" lengthAdjust="spacingAndGlyphs" ><tspan font-style="italic">P</tspan>&lt;0.0001</text>
<line x1="211.20" y1="265.70" x2="245.50" y2="265.70" stroke="#3a3a3a" stroke-width="1" />
<line x1="211.20" y1="265.20" x2="211.20" y2="267.90" stroke="#3a3a3a" stroke-width="1" />
<line x1="245.50" y1="265.20" x2="245.50" y2="267.90" stroke="#3a3a3a" stroke-width="1" />
<text x="211.60" y="262.50" font-size="7.6" text-anchor="start" fill="#2e2e2e" textLength="33.00" lengthAdjust="spacingAndGlyphs" ><tspan font-style="italic">P</tspan>&lt;0.0001</text>
<line x1="210.90" y1="297.40" x2="210.90" y2="341.40" stroke="#262626" stroke-width="0.9" />
<line x1="207.80" y1="297.40" x2="214.00" y2="297.40" stroke="#1a1a1a" stroke-width="1.1" />
<circle cx="210.90" cy="297.60" r="1.1" fill="#c4001c"/>
<circle cx="211.20" cy="304.80" r="1.1" fill="#c4001c"/>
<circle cx="210.80" cy="307.00" r="1.1" fill="#c4001c"/>
<circle cx="208.60" cy="313.20" r="1.1" fill="#c4001c"/>
<circle cx="211.20" cy="314.80" r="1.1" fill="#c4001c"/>
<circle cx="209.50" cy="319.30" r="1.1" fill="#c4001c"/>
<circle cx="212.40" cy="321.00" r="1.1" fill="#c4001c"/>
<circle cx="208.30" cy="322.80" r="1.1" fill="#c4001c"/>
<circle cx="211.00" cy="323.80" r="1.1" fill="#c4001c"/>
<circle cx="208.30" cy="326.00" r="1.1" fill="#c4001c"/>
<circle cx="213.70" cy="326.30" r="1.1" fill="#c4001c"/>
<circle cx="210.60" cy="327.50" r="1.1" fill="#c4001c"/>
<circle cx="208.30" cy="329.30" r="1.1" fill="#c4001c"/>
<circle cx="215.60" cy="329.60" r="1.1" fill="#c4001c"/>
<circle cx="212.30" cy="330.10" r="1.1" fill="#c4001c"/>
<circle cx="205.30" cy="331.80" r="1.1" fill="#c4001c"/>
<circle cx="207.60" cy="331.50" r="1.1" fill="#c4001c"/>
<circle cx="213.30" cy="332.00" r="1.1" fill="#c4001c"/>
<circle cx="218.30" cy="331.60" r="1.1" fill="#c4001c"/>
<circle cx="216.00" cy="333.50" r="1.1" fill="#c4001c"/>
<circle cx="209.70" cy="334.00" r="1.1" fill="#c4001c"/>
<circle cx="212.40" cy="334.20" r="1.1" fill="#c4001c"/>
<circle cx="209.70" cy="335.60" r="1.1" fill="#c4001c"/>
<circle cx="205.30" cy="336.50" r="1.1" fill="#c4001c"/>
<circle cx="213.30" cy="337.60" r="1.1" fill="#c4001c"/>
<circle cx="217.10" cy="338.00" r="1.1" fill="#c4001c"/>
<circle cx="203.70" cy="339.60" r="1.1" fill="#c4001c"/>
<circle cx="206.70" cy="339.00" r="1.1" fill="#c4001c"/>
<circle cx="208.40" cy="338.60" r="1.1" fill="#c4001c"/>
<circle cx="211.30" cy="339.00" r="1.1" fill="#c4001c"/>
<circle cx="215.00" cy="339.50" r="1.1" fill="#c4001c"/>
<circle cx="219.60" cy="339.60" r="1.1" fill="#c4001c"/>
<circle cx="207.60" cy="340.70" r="1.1" fill="#c4001c"/>
<circle cx="211.60" cy="341.50" r="1.1" fill="#c4001c"/>
<circle cx="214.70" cy="341.20" r="1.1" fill="#c4001c"/>
<circle cx="202.00" cy="343.90" r="1.1" fill="#c4001c"/>
<circle cx="205.40" cy="344.00" r="1.1" fill="#c4001c"/>
<circle cx="207.60" cy="344.40" r="1.1" fill="#c4001c"/>
<circle cx="209.70" cy="344.60" r="1.1" fill="#c4001c"/>
<circle cx="212.40" cy="344.40" r="1.1" fill="#c4001c"/>
<circle cx="214.40" cy="345.00" r="1.1" fill="#c4001c"/>
<circle cx="218.00" cy="343.80" r="1.1" fill="#c4001c"/>
<circle cx="219.60" cy="344.20" r="1.1" fill="#c4001c"/>
<circle cx="205.00" cy="346.50" r="1.1" fill="#c4001c"/>
<circle cx="210.60" cy="346.60" r="1.1" fill="#c4001c"/>
<circle cx="213.00" cy="346.40" r="1.1" fill="#c4001c"/>
<circle cx="216.20" cy="345.50" r="1.1" fill="#c4001c"/>
<rect x="204.40" y="341.40" width="13.10" height="29.80" fill="none" stroke="#1a1a1a" stroke-width="1.1"/>
<line x1="210.90" y1="341.40" x2="210.90" y2="371.20" stroke="#262626" stroke-width="0.9" />
<rect x="205.40" y="370.60" width="11.00" height="2.3" rx="1" fill="#1d4a80" opacity="0.9"/>
<line x1="244.50" y1="309.40" x2="244.50" y2="345.10" stroke="#262626" stroke-width="0.9" />
<line x1="241.50" y1="309.40" x2="247.50" y2="309.40" stroke="#1a1a1a" stroke-width="1.1" />
<line x1="241.50" y1="345.10" x2="247.50" y2="345.10" stroke="#1a1a1a" stroke-width="1.1" />
<rect x="237.90" y="313.70" width="13.70" height="27.80" fill="none" stroke="#1a1a1a" stroke-width="1.1"/>
<line x1="237.90" y1="338.70" x2="251.60" y2="338.70" stroke="#1a1a1a" stroke-width="1.1" />
<circle cx="245.00" cy="312.50" r="1.1" fill="#c4001c"/>
<circle cx="244.00" cy="334.00" r="1.1" fill="#c4001c"/>
<circle cx="245.00" cy="340.00" r="1.1" fill="#c4001c"/>
<circle cx="243.00" cy="343.00" r="1.1" fill="#c4001c"/>
<circle cx="245.00" cy="345.00" r="1.1" fill="#c4001c"/>
<line x1="277.70" y1="268.20" x2="277.70" y2="371.20" stroke="#262626" stroke-width="0.9" />
<line x1="274.20" y1="268.20" x2="281.20" y2="268.20" stroke="#1a1a1a" stroke-width="1.1" />
<rect x="270.40" y="301.80" width="14.40" height="29.10" fill="none" stroke="#1a1a1a" stroke-width="1.1"/>
<line x1="270.40" y1="312.30" x2="284.80" y2="312.30" stroke="#1a1a1a" stroke-width="1.1" />
<circle cx="277.70" cy="249.20" r="1.1" fill="#c4001c"/>
<circle cx="277.70" cy="268.30" r="1.1" fill="#c4001c"/>
<circle cx="277.70" cy="279.60" r="1.1" fill="#c4001c"/>
<circle cx="277.20" cy="291.00" r="1.1" fill="#c4001c"/>
<circle cx="278.50" cy="295.90" r="1.1" fill="#c4001c"/>
<circle cx="276.20" cy="297.80" r="1.1" fill="#c4001c"/>
<circle cx="278.00" cy="298.50" r="1.1" fill="#c4001c"/>
<circle cx="278.50" cy="301.40" r="1.1" fill="#c4001c"/>
<circle cx="276.00" cy="303.70" r="1.1" fill="#c4001c"/>
<circle cx="278.50" cy="303.00" r="1.1" fill="#c4001c"/>
<circle cx="280.50" cy="303.50" r="1.1" fill="#c4001c"/>
<circle cx="279.50" cy="302.00" r="1.1" fill="#c4001c"/>
<circle cx="277.00" cy="308.20" r="1.1" fill="#c4001c"/>
<circle cx="276.50" cy="311.50" r="1.1" fill="#c4001c"/>
<circle cx="279.50" cy="310.70" r="1.1" fill="#c4001c"/>
<circle cx="278.50" cy="322.30" r="1.1" fill="#c4001c"/>
<circle cx="275.50" cy="327.20" r="1.1" fill="#c4001c"/>
<circle cx="277.00" cy="328.00" r="1.1" fill="#c4001c"/>
<circle cx="279.50" cy="328.00" r="1.1" fill="#c4001c"/>
<circle cx="276.50" cy="330.00" r="1.1" fill="#c4001c"/>
<circle cx="278.50" cy="330.50" r="1.1" fill="#c4001c"/>
<circle cx="277.00" cy="332.10" r="1.1" fill="#c4001c"/>
<circle cx="278.50" cy="335.20" r="1.1" fill="#c4001c"/>
<circle cx="277.00" cy="337.60" r="1.1" fill="#c4001c"/>
<circle cx="277.70" cy="346.80" r="1.1" fill="#c4001c"/>
<circle cx="277.70" cy="371.70" r="1.1" fill="#0b4a8a"/>
<text x="304.80" y="236.00" font-size="8.0" text-anchor="start" fill="#2e2e2e" textLength="65.50" lengthAdjust="spacingAndGlyphs" style="white-space:pre">No. of  CTMC in PB</text>
<circle cx="307.30" cy="245.60" r="1.5" fill="#0b4a8a"/>
<circle cx="306.80" cy="259.00" r="1.5" fill="#c4001c"/>
<text x="311.8" y="248.6" font-size="8.2" fill="#2e2e2e"><tspan textLength="20.5" lengthAdjust="spacingAndGlyphs">CTMC</tspan><tspan font-size="5" dy="-3.2">−</tspan></text>
<text x="311.3" y="262.0" font-size="8.2" fill="#2e2e2e"><tspan textLength="20.5" lengthAdjust="spacingAndGlyphs">CTMC</tspan><tspan font-size="5" dy="-3.2">+</tspan></text>
<text x="9.2" y="438.3" font-size="10.6" font-weight="bold" fill="#000">D</text>
<line x1="40.30" y1="432.20" x2="40.30" y2="590.20" stroke="#1a1a1a" stroke-width="1.1" />
<line x1="37.30" y1="559.05" x2="40.30" y2="559.05" stroke="#1a1a1a" stroke-width="1" />
<text x="31.10" y="562.95" font-size="8.8" text-anchor="end" fill="#2e2e2e" textLength="7.6" lengthAdjust="spacingAndGlyphs">10</text>
<text x="31.45" y="559.25" font-size="5.1" text-anchor="start" fill="#2e2e2e">1</text>
<line x1="37.30" y1="535.40" x2="40.30" y2="535.40" stroke="#1a1a1a" stroke-width="1" />
<text x="31.10" y="539.30" font-size="8.8" text-anchor="end" fill="#2e2e2e" textLength="7.6" lengthAdjust="spacingAndGlyphs">10</text>
<text x="31.45" y="535.60" font-size="5.1" text-anchor="start" fill="#2e2e2e">2</text>
<line x1="37.30" y1="511.75" x2="40.30" y2="511.75" stroke="#1a1a1a" stroke-width="1" />
<text x="31.10" y="515.65" font-size="8.8" text-anchor="end" fill="#2e2e2e" textLength="7.6" lengthAdjust="spacingAndGlyphs">10</text>
<text x="31.45" y="511.95" font-size="5.1" text-anchor="start" fill="#2e2e2e">3</text>
<line x1="37.30" y1="488.10" x2="40.30" y2="488.10" stroke="#1a1a1a" stroke-width="1" />
<text x="31.10" y="492.00" font-size="8.8" text-anchor="end" fill="#2e2e2e" textLength="7.6" lengthAdjust="spacingAndGlyphs">10</text>
<text x="31.45" y="488.30" font-size="5.1" text-anchor="start" fill="#2e2e2e">4</text>
<line x1="37.30" y1="464.45" x2="40.30" y2="464.45" stroke="#1a1a1a" stroke-width="1" />
<text x="31.10" y="468.35" font-size="8.8" text-anchor="end" fill="#2e2e2e" textLength="7.6" lengthAdjust="spacingAndGlyphs">10</text>
<text x="31.45" y="464.65" font-size="5.1" text-anchor="start" fill="#2e2e2e">5</text>
<line x1="37.30" y1="440.80" x2="40.30" y2="440.80" stroke="#1a1a1a" stroke-width="1" />
<text x="31.10" y="444.70" font-size="8.8" text-anchor="end" fill="#2e2e2e" textLength="7.6" lengthAdjust="spacingAndGlyphs">10</text>
<text x="31.45" y="441.00" font-size="5.1" text-anchor="start" fill="#2e2e2e">6</text>
<line x1="37.30" y1="575.58" x2="40.30" y2="575.58" stroke="#1a1a1a" stroke-width="1" />
<text x="34.40" y="577.28" font-size="7.6" text-anchor="end" fill="#2e2e2e">1</text>
<line x1="37.30" y1="582.70" x2="40.30" y2="582.70" stroke="#1a1a1a" stroke-width="1" />
<text x="34.20" y="585.00" font-size="7.6" text-anchor="end" fill="#2e2e2e">0</text>
<text transform="translate(16.70,512.00) rotate(-90)" x="0" y="0" font-size="8.7" text-anchor="middle" fill="#2e2e2e" textLength="90.70" lengthAdjust="spacingAndGlyphs" style="white-space:pre">No. of  CTMC/mL of PB (log)</text>
<line x1="42.60" y1="582.70" x2="224.00" y2="582.70" stroke="#4a4a4a" stroke-width="1.1" stroke-dasharray="4.2 2.10"/>
<line x1="39.80" y1="589.80" x2="224.00" y2="589.80" stroke="#1a1a1a" stroke-width="1.1" />
<line x1="77.20" y1="589.80" x2="77.20" y2="592.60" stroke="#1a1a1a" stroke-width="1" />
<text x="77.20" y="602.60" font-size="8.2" text-anchor="middle" fill="#2e2e2e" textLength="13.80" lengthAdjust="spacingAndGlyphs" >Low</text>
<text x="77.20" y="611.80" font-size="7.4" text-anchor="middle" fill="#2e2e2e" textLength="27.40" lengthAdjust="spacingAndGlyphs" >(n=131)</text>
<line x1="131.10" y1="589.80" x2="131.10" y2="592.60" stroke="#1a1a1a" stroke-width="1" />
<text x="131.10" y="602.60" font-size="8.2" text-anchor="middle" fill="#2e2e2e" textLength="17.20" lengthAdjust="spacingAndGlyphs" >Inter</text>
<text x="131.10" y="611.80" font-size="7.4" text-anchor="middle" fill="#2e2e2e" textLength="23.10" lengthAdjust="spacingAndGlyphs" >(n=45)</text>
<line x1="183.30" y1="589.80" x2="183.30" y2="592.60" stroke="#1a1a1a" stroke-width="1" />
<text x="183.30" y="602.60" font-size="8.2" text-anchor="middle" fill="#2e2e2e" textLength="16.90" lengthAdjust="spacingAndGlyphs" >High</text>
<text x="183.30" y="611.80" font-size="7.4" text-anchor="middle" fill="#2e2e2e" textLength="23.10" lengthAdjust="spacingAndGlyphs" >(n=37)</text>
<text x="131.40" y="626.50" font-size="8.9" text-anchor="middle" fill="#2e2e2e" textLength="72.60" lengthAdjust="spacingAndGlyphs" >GPSM-PFS risk groups</text>
<text x="77.20" y="435.30" font-size="8.2" text-anchor="middle" fill="#2e2e2e" textLength="15.40" lengthAdjust="spacingAndGlyphs" >19%</text>
<text x="131.10" y="435.30" font-size="8.2" text-anchor="middle" fill="#2e2e2e" textLength="16.10" lengthAdjust="spacingAndGlyphs" >51%</text>
<text x="183.30" y="435.30" font-size="8.2" text-anchor="middle" fill="#2e2e2e" textLength="16.20" lengthAdjust="spacingAndGlyphs" >95%</text>
<line x1="78.10" y1="452.70" x2="183.20" y2="452.70" stroke="#3a3a3a" stroke-width="1" />
<line x1="78.10" y1="452.20" x2="78.10" y2="454.90" stroke="#3a3a3a" stroke-width="1" />
<line x1="183.20" y1="452.20" x2="183.20" y2="454.90" stroke="#3a3a3a" stroke-width="1" />
<text x="113.40" y="449.20" font-size="7.6" text-anchor="start" fill="#2e2e2e" textLength="32.80" lengthAdjust="spacingAndGlyphs" ><tspan font-style="italic">P</tspan>&lt;0.0001</text>
<line x1="131.20" y1="469.30" x2="183.20" y2="469.30" stroke="#3a3a3a" stroke-width="1" />
<line x1="131.20" y1="468.80" x2="131.20" y2="471.50" stroke="#3a3a3a" stroke-width="1" />
<line x1="183.20" y1="468.80" x2="183.20" y2="471.50" stroke="#3a3a3a" stroke-width="1" />
<text x="139.30" y="465.40" font-size="7.6" text-anchor="start" fill="#2e2e2e" textLength="33.50" lengthAdjust="spacingAndGlyphs" ><tspan font-style="italic">P</tspan>&lt;0.0001</text>
<line x1="78.10" y1="492.00" x2="131.90" y2="492.00" stroke="#3a3a3a" stroke-width="1" />
<line x1="78.10" y1="491.50" x2="78.10" y2="494.20" stroke="#3a3a3a" stroke-width="1" />
<line x1="131.90" y1="491.50" x2="131.90" y2="494.20" stroke="#3a3a3a" stroke-width="1" />
<text x="86.60" y="488.50" font-size="7.6" text-anchor="start" fill="#2e2e2e" textLength="33.10" lengthAdjust="spacingAndGlyphs" ><tspan font-style="italic">P</tspan>&lt;0.0001</text>
<circle cx="76.00" cy="521.30" r="1.1" fill="#c4001c"/>
<circle cx="77.00" cy="535.20" r="1.1" fill="#c4001c"/>
<circle cx="76.50" cy="573.00" r="1.1" fill="#c4001c"/>
<circle cx="76.50" cy="541.30" r="1.1" fill="#c4001c"/>
<circle cx="74.50" cy="542.20" r="1.1" fill="#c4001c"/>
<circle cx="77.50" cy="543.50" r="1.1" fill="#c4001c"/>
<circle cx="75.20" cy="544.60" r="1.1" fill="#c4001c"/>
<circle cx="73.70" cy="544.80" r="1.1" fill="#c4001c"/>
<circle cx="77.00" cy="545.20" r="1.1" fill="#c4001c"/>
<circle cx="77.50" cy="546.80" r="1.1" fill="#c4001c"/>
<circle cx="73.00" cy="549.30" r="1.1" fill="#c4001c"/>
<circle cx="75.00" cy="549.80" r="1.1" fill="#c4001c"/>
<circle cx="77.00" cy="549.50" r="1.1" fill="#c4001c"/>
<circle cx="79.00" cy="549.00" r="1.1" fill="#c4001c"/>
<circle cx="72.00" cy="551.80" r="1.1" fill="#c4001c"/>
<circle cx="79.00" cy="551.80" r="1.1" fill="#c4001c"/>
<circle cx="75.50" cy="553.50" r="1.1" fill="#c4001c"/>
<circle cx="77.50" cy="553.50" r="1.1" fill="#c4001c"/>
<circle cx="71.50" cy="555.70" r="1.1" fill="#c4001c"/>
<circle cx="73.50" cy="556.30" r="1.1" fill="#c4001c"/>
<circle cx="75.50" cy="556.30" r="1.1" fill="#c4001c"/>
<circle cx="77.50" cy="556.30" r="1.1" fill="#c4001c"/>
<circle cx="79.50" cy="557.00" r="1.1" fill="#c4001c"/>
<circle cx="81.20" cy="556.00" r="1.1" fill="#c4001c"/>
<circle cx="71.50" cy="558.30" r="1.1" fill="#c4001c"/>
<circle cx="79.00" cy="558.20" r="1.1" fill="#c4001c"/>
<rect x="70.70" y="581.80" width="13.20" height="2.0" rx="0.9" fill="#0a0a0a"/>
<rect x="72.70" y="582.80" width="9.20" height="1.0" fill="#2c64a0" opacity="0.8"/>
<line x1="131.40" y1="502.00" x2="131.40" y2="543.10" stroke="#262626" stroke-width="0.9" />
<line x1="128.20" y1="502.00" x2="134.60" y2="502.00" stroke="#1a1a1a" stroke-width="1.1" />
<circle cx="131.60" cy="502.00" r="1.1" fill="#c4001c"/>
<circle cx="130.00" cy="508.30" r="1.1" fill="#c4001c"/>
<circle cx="133.00" cy="508.30" r="1.1" fill="#c4001c"/>
<circle cx="131.60" cy="514.30" r="1.1" fill="#c4001c"/>
<circle cx="131.60" cy="530.30" r="1.1" fill="#c4001c"/>
<circle cx="131.60" cy="533.00" r="1.1" fill="#c4001c"/>
<circle cx="131.60" cy="536.90" r="1.1" fill="#c4001c"/>
<circle cx="130.00" cy="540.20" r="1.1" fill="#c4001c"/>
<circle cx="133.00" cy="540.20" r="1.1" fill="#c4001c"/>
<circle cx="128.50" cy="541.80" r="1.1" fill="#c4001c"/>
<circle cx="135.50" cy="541.30" r="1.1" fill="#c4001c"/>
<circle cx="130.50" cy="542.00" r="1.1" fill="#c4001c"/>
<circle cx="133.50" cy="542.50" r="1.1" fill="#c4001c"/>
<circle cx="131.00" cy="544.60" r="1.1" fill="#c4001c"/>
<circle cx="132.50" cy="545.20" r="1.1" fill="#c4001c"/>
<circle cx="131.00" cy="550.10" r="1.1" fill="#c4001c"/>
<circle cx="130.00" cy="552.00" r="1.1" fill="#c4001c"/>
<circle cx="129.50" cy="551.80" r="1.1" fill="#c4001c"/>
<circle cx="133.50" cy="553.00" r="1.1" fill="#c4001c"/>
<circle cx="128.00" cy="554.50" r="1.1" fill="#c4001c"/>
<circle cx="130.50" cy="555.50" r="1.1" fill="#c4001c"/>
<circle cx="131.50" cy="557.30" r="1.1" fill="#c4001c"/>
<circle cx="131.50" cy="558.80" r="1.1" fill="#c4001c"/>
<rect x="124.40" y="543.10" width="14.20" height="39.30" fill="none" stroke="#1a1a1a" stroke-width="1.1"/>
<line x1="131.40" y1="543.10" x2="131.40" y2="582.40" stroke="#262626" stroke-width="0.9" />
<rect x="126.20" y="582.10" width="10.40" height="2.3" rx="1" fill="#1d4a80" opacity="0.9"/>
<line x1="183.40" y1="479.00" x2="183.40" y2="582.70" stroke="#262626" stroke-width="0.9" />
<line x1="179.90" y1="479.00" x2="186.90" y2="479.00" stroke="#1a1a1a" stroke-width="1.1" />
<circle cx="183.30" cy="460.50" r="1.1" fill="#c4001c"/>
<circle cx="183.30" cy="479.20" r="1.1" fill="#c4001c"/>
<circle cx="183.20" cy="490.30" r="1.1" fill="#c4001c"/>
<circle cx="183.20" cy="506.80" r="1.1" fill="#c4001c"/>
<circle cx="183.20" cy="512.70" r="1.1" fill="#c4001c"/>
<circle cx="181.50" cy="514.50" r="1.1" fill="#c4001c"/>
<circle cx="185.00" cy="514.00" r="1.1" fill="#c4001c"/>
<circle cx="186.50" cy="516.50" r="1.1" fill="#c4001c"/>
<circle cx="183.20" cy="519.20" r="1.1" fill="#c4001c"/>
<circle cx="181.00" cy="522.10" r="1.1" fill="#c4001c"/>
<circle cx="183.20" cy="521.50" r="1.1" fill="#c4001c"/>
<circle cx="185.50" cy="522.00" r="1.1" fill="#c4001c"/>
<circle cx="180.00" cy="524.50" r="1.1" fill="#c4001c"/>
<circle cx="186.50" cy="524.50" r="1.1" fill="#c4001c"/>
<circle cx="182.00" cy="525.50" r="1.1" fill="#c4001c"/>
<circle cx="184.50" cy="525.50" r="1.1" fill="#c4001c"/>
<circle cx="183.20" cy="526.80" r="1.1" fill="#c4001c"/>
<circle cx="183.20" cy="532.20" r="1.1" fill="#c4001c"/>
<circle cx="180.50" cy="538.70" r="1.1" fill="#c4001c"/>
<circle cx="182.50" cy="539.00" r="1.1" fill="#c4001c"/>
<circle cx="184.00" cy="539.00" r="1.1" fill="#c4001c"/>
<circle cx="186.00" cy="538.70" r="1.1" fill="#c4001c"/>
<circle cx="183.20" cy="541.00" r="1.1" fill="#c4001c"/>
<circle cx="183.20" cy="542.80" r="1.1" fill="#c4001c"/>
<circle cx="184.50" cy="545.00" r="1.1" fill="#c4001c"/>
<circle cx="182.50" cy="546.50" r="1.1" fill="#c4001c"/>
<circle cx="181.50" cy="549.90" r="1.1" fill="#c4001c"/>
<circle cx="183.20" cy="549.00" r="1.1" fill="#c4001c"/>
<circle cx="185.00" cy="549.50" r="1.1" fill="#c4001c"/>
<circle cx="186.50" cy="550.50" r="1.1" fill="#c4001c"/>
<circle cx="182.00" cy="551.80" r="1.1" fill="#c4001c"/>
<circle cx="184.50" cy="552.50" r="1.1" fill="#c4001c"/>
<circle cx="181.50" cy="554.60" r="1.1" fill="#c4001c"/>
<circle cx="183.50" cy="555.50" r="1.1" fill="#c4001c"/>
<circle cx="183.20" cy="557.30" r="1.1" fill="#c4001c"/>
<rect x="176.40" y="519.20" width="14.20" height="29.40" fill="none" stroke="#1a1a1a" stroke-width="1.1"/>
<line x1="176.40" y1="537.30" x2="190.60" y2="537.30" stroke="#1a1a1a" stroke-width="1.1" />
<circle cx="183.40" cy="582.80" r="1.1" fill="#0b4a8a"/>
<text x="293.8" y="438.3" font-size="10.6" font-weight="bold" fill="#000">E</text>
<line x1="325.80" y1="432.50" x2="325.80" y2="590.80" stroke="#1a1a1a" stroke-width="1.1" />
<line x1="322.80" y1="559.65" x2="325.80" y2="559.65" stroke="#1a1a1a" stroke-width="1" />
<text x="316.60" y="563.55" font-size="8.8" text-anchor="end" fill="#2e2e2e" textLength="7.6" lengthAdjust="spacingAndGlyphs">10</text>
<text x="316.95" y="559.85" font-size="5.1" text-anchor="start" fill="#2e2e2e">1</text>
<line x1="322.80" y1="536.00" x2="325.80" y2="536.00" stroke="#1a1a1a" stroke-width="1" />
<text x="316.60" y="539.90" font-size="8.8" text-anchor="end" fill="#2e2e2e" textLength="7.6" lengthAdjust="spacingAndGlyphs">10</text>
<text x="316.95" y="536.20" font-size="5.1" text-anchor="start" fill="#2e2e2e">2</text>
<line x1="322.80" y1="512.35" x2="325.80" y2="512.35" stroke="#1a1a1a" stroke-width="1" />
<text x="316.60" y="516.25" font-size="8.8" text-anchor="end" fill="#2e2e2e" textLength="7.6" lengthAdjust="spacingAndGlyphs">10</text>
<text x="316.95" y="512.55" font-size="5.1" text-anchor="start" fill="#2e2e2e">3</text>
<line x1="322.80" y1="488.70" x2="325.80" y2="488.70" stroke="#1a1a1a" stroke-width="1" />
<text x="316.60" y="492.60" font-size="8.8" text-anchor="end" fill="#2e2e2e" textLength="7.6" lengthAdjust="spacingAndGlyphs">10</text>
<text x="316.95" y="488.90" font-size="5.1" text-anchor="start" fill="#2e2e2e">4</text>
<line x1="322.80" y1="465.05" x2="325.80" y2="465.05" stroke="#1a1a1a" stroke-width="1" />
<text x="316.60" y="468.95" font-size="8.8" text-anchor="end" fill="#2e2e2e" textLength="7.6" lengthAdjust="spacingAndGlyphs">10</text>
<text x="316.95" y="465.25" font-size="5.1" text-anchor="start" fill="#2e2e2e">5</text>
<line x1="322.80" y1="441.40" x2="325.80" y2="441.40" stroke="#1a1a1a" stroke-width="1" />
<text x="316.60" y="445.30" font-size="8.8" text-anchor="end" fill="#2e2e2e" textLength="7.6" lengthAdjust="spacingAndGlyphs">10</text>
<text x="316.95" y="441.60" font-size="5.1" text-anchor="start" fill="#2e2e2e">6</text>
<line x1="322.80" y1="576.18" x2="325.80" y2="576.18" stroke="#1a1a1a" stroke-width="1" />
<text x="319.90" y="577.88" font-size="7.6" text-anchor="end" fill="#2e2e2e">1</text>
<line x1="322.80" y1="583.30" x2="325.80" y2="583.30" stroke="#1a1a1a" stroke-width="1" />
<text x="319.70" y="585.60" font-size="7.6" text-anchor="end" fill="#2e2e2e">0</text>
<text transform="translate(302.00,509.90) rotate(-90)" x="0" y="0" font-size="8.7" text-anchor="middle" fill="#2e2e2e" textLength="87.20" lengthAdjust="spacingAndGlyphs" style="white-space:pre">No. of  CTMC/mL of PB (log)</text>
<line x1="328.20" y1="583.30" x2="509.70" y2="583.30" stroke="#4a4a4a" stroke-width="1.1" stroke-dasharray="4.2 2.10"/>
<line x1="325.30" y1="590.40" x2="509.70" y2="590.40" stroke="#1a1a1a" stroke-width="1.1" />
<line x1="355.50" y1="590.40" x2="355.50" y2="593.20" stroke="#1a1a1a" stroke-width="1" />
<text x="355.50" y="602.90" font-size="8.2" text-anchor="middle" fill="#2e2e2e" textLength="14.00" lengthAdjust="spacingAndGlyphs" >Low</text>
<text x="355.50" y="612.00" font-size="7.4" text-anchor="middle" fill="#2e2e2e" textLength="27.40" lengthAdjust="spacingAndGlyphs" >(n=107)</text>
<line x1="396.10" y1="590.40" x2="396.10" y2="593.20" stroke="#1a1a1a" stroke-width="1" />
<text x="396.10" y="602.90" font-size="8.2" text-anchor="middle" fill="#2e2e2e" textLength="22.00" lengthAdjust="spacingAndGlyphs" >Inter 1</text>
<text x="396.10" y="612.00" font-size="7.4" text-anchor="middle" fill="#2e2e2e" textLength="22.80" lengthAdjust="spacingAndGlyphs" >(n=68)</text>
<line x1="437.60" y1="590.40" x2="437.60" y2="593.20" stroke="#1a1a1a" stroke-width="1" />
<text x="437.60" y="602.90" font-size="8.2" text-anchor="middle" fill="#2e2e2e" textLength="23.10" lengthAdjust="spacingAndGlyphs" >Inter 2</text>
<text x="437.60" y="612.00" font-size="7.4" text-anchor="middle" fill="#2e2e2e" textLength="23.10" lengthAdjust="spacingAndGlyphs" >(n=36)</text>
<line x1="478.30" y1="590.40" x2="478.30" y2="593.20" stroke="#1a1a1a" stroke-width="1" />
<text x="478.30" y="602.90" font-size="8.2" text-anchor="middle" fill="#2e2e2e" textLength="16.90" lengthAdjust="spacingAndGlyphs" >High</text>
<text x="478.30" y="612.00" font-size="7.4" text-anchor="middle" fill="#2e2e2e" textLength="19.20" lengthAdjust="spacingAndGlyphs" >(n=3)</text>
<text x="416.30" y="626.50" font-size="8.9" text-anchor="middle" fill="#2e2e2e" textLength="80.90" lengthAdjust="spacingAndGlyphs" >AdvSM-IPSM risk groups</text>
<text x="355.50" y="435.40" font-size="8.2" text-anchor="middle" fill="#2e2e2e" textLength="15.40" lengthAdjust="spacingAndGlyphs" >22%</text>
<text x="396.10" y="435.40" font-size="8.2" text-anchor="middle" fill="#2e2e2e" textLength="15.40" lengthAdjust="spacingAndGlyphs" >38%</text>
<text x="437.60" y="435.40" font-size="8.2" text-anchor="middle" fill="#2e2e2e" textLength="15.40" lengthAdjust="spacingAndGlyphs" >86%</text>
<text x="478.30" y="435.40" font-size="8.2" text-anchor="middle" fill="#2e2e2e" textLength="20.00" lengthAdjust="spacingAndGlyphs" >100%</text>
<line x1="354.00" y1="454.20" x2="478.70" y2="454.20" stroke="#3a3a3a" stroke-width="1" />
<line x1="354.00" y1="453.70" x2="354.00" y2="456.40" stroke="#3a3a3a" stroke-width="1" />
<line x1="478.70" y1="453.70" x2="478.70" y2="456.40" stroke="#3a3a3a" stroke-width="1" />
<text x="398.50" y="450.10" font-size="7.6" text-anchor="start" fill="#2e2e2e" textLength="32.80" lengthAdjust="spacingAndGlyphs" ><tspan font-style="italic">P</tspan>&lt;0.0001</text>
<line x1="395.80" y1="469.00" x2="478.70" y2="469.00" stroke="#3a3a3a" stroke-width="1" />
<line x1="395.80" y1="468.50" x2="395.80" y2="471.20" stroke="#3a3a3a" stroke-width="1" />
<text x="421.40" y="465.70" font-size="7.6" text-anchor="start" fill="#2e2e2e" textLength="29.60" lengthAdjust="spacingAndGlyphs" ><tspan font-style="italic">P</tspan>=0.002</text>
<line x1="437.50" y1="482.40" x2="478.70" y2="482.40" stroke="#3a3a3a" stroke-width="1" />
<line x1="437.50" y1="481.90" x2="437.50" y2="484.60" stroke="#3a3a3a" stroke-width="1" />
<text x="445.60" y="480.50" font-size="7.6" text-anchor="start" fill="#2e2e2e" textLength="24.20" lengthAdjust="spacingAndGlyphs" ><tspan font-style="italic">P</tspan>=0.04</text>
<line x1="354.00" y1="488.60" x2="437.50" y2="488.60" stroke="#3a3a3a" stroke-width="1" />
<line x1="354.00" y1="488.10" x2="354.00" y2="490.80" stroke="#3a3a3a" stroke-width="1" />
<line x1="437.50" y1="488.10" x2="437.50" y2="490.80" stroke="#3a3a3a" stroke-width="1" />
<text x="379.00" y="486.50" font-size="7.6" text-anchor="start" fill="#2e2e2e" textLength="33.00" lengthAdjust="spacingAndGlyphs" ><tspan font-style="italic">P</tspan>&lt;0.0001</text>
<line x1="395.60" y1="512.70" x2="437.50" y2="512.70" stroke="#3a3a3a" stroke-width="1" />
<line x1="395.60" y1="512.20" x2="395.60" y2="514.90" stroke="#3a3a3a" stroke-width="1" />
<line x1="437.50" y1="512.20" x2="437.50" y2="514.90" stroke="#3a3a3a" stroke-width="1" />
<text x="399.00" y="510.40" font-size="7.6" text-anchor="start" fill="#2e2e2e" textLength="33.70" lengthAdjust="spacingAndGlyphs" ><tspan font-style="italic">P</tspan>&lt;0.0001</text>
<line x1="355.40" y1="526.70" x2="395.60" y2="526.70" stroke="#3a3a3a" stroke-width="1" />
<line x1="355.40" y1="526.20" x2="355.40" y2="528.90" stroke="#3a3a3a" stroke-width="1" />
<line x1="395.60" y1="526.20" x2="395.60" y2="528.90" stroke="#3a3a3a" stroke-width="1" />
<text x="363.50" y="524.20" font-size="7.6" text-anchor="start" fill="#2e2e2e" textLength="24.50" lengthAdjust="spacingAndGlyphs" ><tspan font-style="italic">P</tspan>=0.01</text>
<circle cx="355.60" cy="509.90" r="1.1" fill="#c4001c"/>
<circle cx="355.60" cy="522.20" r="1.1" fill="#c4001c"/>
<circle cx="355.40" cy="535.80" r="1.1" fill="#c4001c"/>
<circle cx="355.40" cy="537.00" r="1.1" fill="#c4001c"/>
<circle cx="355.40" cy="538.80" r="1.1" fill="#c4001c"/>
<circle cx="354.80" cy="541.90" r="1.1" fill="#c4001c"/>
<circle cx="353.50" cy="543.10" r="1.1" fill="#c4001c"/>
<circle cx="356.00" cy="543.50" r="1.1" fill="#c4001c"/>
<circle cx="357.00" cy="544.80" r="1.1" fill="#c4001c"/>
<circle cx="355.00" cy="545.20" r="1.1" fill="#c4001c"/>
<circle cx="355.40" cy="547.30" r="1.1" fill="#c4001c"/>
<circle cx="355.40" cy="550.20" r="1.1" fill="#c4001c"/>
<circle cx="350.00" cy="550.90" r="1.1" fill="#c4001c"/>
<circle cx="351.60" cy="551.30" r="1.1" fill="#c4001c"/>
<circle cx="360.30" cy="550.60" r="1.1" fill="#c4001c"/>
<circle cx="358.50" cy="552.30" r="1.1" fill="#c4001c"/>
<circle cx="354.00" cy="552.50" r="1.1" fill="#c4001c"/>
<circle cx="356.50" cy="552.60" r="1.1" fill="#c4001c"/>
<circle cx="351.50" cy="553.90" r="1.1" fill="#c4001c"/>
<circle cx="353.00" cy="555.00" r="1.1" fill="#c4001c"/>
<circle cx="355.40" cy="555.30" r="1.1" fill="#c4001c"/>
<circle cx="353.00" cy="557.00" r="1.1" fill="#c4001c"/>
<circle cx="355.40" cy="558.50" r="1.1" fill="#c4001c"/>
<circle cx="357.50" cy="557.50" r="1.1" fill="#c4001c"/>
<circle cx="358.30" cy="557.60" r="1.1" fill="#c4001c"/>
<circle cx="355.60" cy="573.70" r="1.1" fill="#c4001c"/>
<rect x="349.20" y="582.40" width="13.60" height="2.0" rx="0.9" fill="#0a0a0a"/>
<rect x="351.20" y="583.40" width="9.60" height="1.0" fill="#2c64a0" opacity="0.8"/>
<line x1="396.00" y1="517.60" x2="396.00" y2="554.90" stroke="#262626" stroke-width="0.9" />
<line x1="392.90" y1="517.60" x2="399.10" y2="517.60" stroke="#1a1a1a" stroke-width="1.1" />
<circle cx="395.20" cy="503.20" r="1.1" fill="#c4001c"/>
<circle cx="397.60" cy="503.20" r="1.1" fill="#c4001c"/>
<circle cx="396.00" cy="517.60" r="1.1" fill="#c4001c"/>
<circle cx="395.20" cy="520.10" r="1.1" fill="#c4001c"/>
<circle cx="396.00" cy="531.60" r="1.1" fill="#c4001c"/>
<circle cx="396.00" cy="536.00" r="1.1" fill="#c4001c"/>
<circle cx="394.60" cy="540.50" r="1.1" fill="#c4001c"/>
<circle cx="396.80" cy="541.00" r="1.1" fill="#c4001c"/>
<circle cx="399.80" cy="542.50" r="1.1" fill="#c4001c"/>
<circle cx="393.80" cy="543.50" r="1.1" fill="#c4001c"/>
<circle cx="398.30" cy="544.00" r="1.1" fill="#c4001c"/>
<circle cx="402.10" cy="545.00" r="1.1" fill="#c4001c"/>
<circle cx="396.10" cy="545.50" r="1.1" fill="#c4001c"/>
<circle cx="399.10" cy="546.50" r="1.1" fill="#c4001c"/>
<circle cx="394.60" cy="546.80" r="1.1" fill="#c4001c"/>
<circle cx="396.80" cy="547.80" r="1.1" fill="#c4001c"/>
<circle cx="396.10" cy="550.00" r="1.1" fill="#c4001c"/>
<circle cx="398.30" cy="551.50" r="1.1" fill="#c4001c"/>
<circle cx="392.30" cy="555.00" r="1.1" fill="#c4001c"/>
<circle cx="395.30" cy="555.50" r="1.1" fill="#c4001c"/>
<circle cx="398.30" cy="554.50" r="1.1" fill="#c4001c"/>
<circle cx="401.30" cy="556.00" r="1.1" fill="#c4001c"/>
<circle cx="393.80" cy="558.00" r="1.1" fill="#c4001c"/>
<circle cx="396.80" cy="557.50" r="1.1" fill="#c4001c"/>
<circle cx="399.80" cy="558.00" r="1.1" fill="#c4001c"/>
<circle cx="392.30" cy="559.50" r="1.1" fill="#c4001c"/>
<circle cx="395.30" cy="559.60" r="1.1" fill="#c4001c"/>
<circle cx="398.80" cy="560.00" r="1.1" fill="#c4001c"/>
<rect x="389.00" y="554.90" width="14.00" height="29.30" fill="none" stroke="#1a1a1a" stroke-width="1.1"/>
<line x1="396.00" y1="554.90" x2="396.00" y2="584.20" stroke="#262626" stroke-width="0.9" />
<rect x="390.80" y="582.70" width="10.40" height="2.3" rx="1" fill="#1d4a80" opacity="0.9"/>
<line x1="437.90" y1="492.30" x2="437.90" y2="583.30" stroke="#262626" stroke-width="0.9" />
<line x1="434.40" y1="492.30" x2="441.40" y2="492.30" stroke="#1a1a1a" stroke-width="1.1" />
<circle cx="438.00" cy="481.00" r="1.1" fill="#c4001c"/>
<circle cx="438.00" cy="492.30" r="1.1" fill="#c4001c"/>
<circle cx="437.00" cy="508.80" r="1.1" fill="#c4001c"/>
<circle cx="439.00" cy="509.50" r="1.1" fill="#c4001c"/>
<circle cx="436.50" cy="515.60" r="1.1" fill="#c4001c"/>
<circle cx="439.50" cy="516.00" r="1.1" fill="#c4001c"/>
<circle cx="438.00" cy="513.50" r="1.1" fill="#c4001c"/>
<circle cx="438.00" cy="521.50" r="1.1" fill="#c4001c"/>
<circle cx="435.00" cy="525.50" r="1.1" fill="#c4001c"/>
<circle cx="437.00" cy="525.50" r="1.1" fill="#c4001c"/>
<circle cx="440.00" cy="525.00" r="1.1" fill="#c4001c"/>
<circle cx="442.00" cy="526.00" r="1.1" fill="#c4001c"/>
<circle cx="438.00" cy="527.60" r="1.1" fill="#c4001c"/>
<circle cx="437.50" cy="529.70" r="1.1" fill="#c4001c"/>
<circle cx="438.00" cy="534.00" r="1.1" fill="#c4001c"/>
<circle cx="439.00" cy="535.50" r="1.1" fill="#c4001c"/>
<circle cx="436.00" cy="539.00" r="1.1" fill="#c4001c"/>
<circle cx="438.00" cy="539.50" r="1.1" fill="#c4001c"/>
<circle cx="440.00" cy="539.00" r="1.1" fill="#c4001c"/>
<circle cx="437.00" cy="541.80" r="1.1" fill="#c4001c"/>
<circle cx="439.00" cy="543.00" r="1.1" fill="#c4001c"/>
<circle cx="438.00" cy="544.60" r="1.1" fill="#c4001c"/>
<circle cx="437.00" cy="547.00" r="1.1" fill="#c4001c"/>
<circle cx="436.00" cy="551.70" r="1.1" fill="#c4001c"/>
<circle cx="438.00" cy="551.00" r="1.1" fill="#c4001c"/>
<circle cx="440.00" cy="552.00" r="1.1" fill="#c4001c"/>
<circle cx="442.00" cy="552.00" r="1.1" fill="#c4001c"/>
<circle cx="437.00" cy="557.80" r="1.1" fill="#c4001c"/>
<circle cx="439.00" cy="557.00" r="1.1" fill="#c4001c"/>
<rect x="430.60" y="525.10" width="14.50" height="28.30" fill="none" stroke="#1a1a1a" stroke-width="1.1"/>
<line x1="430.60" y1="540.20" x2="445.10" y2="540.20" stroke="#1a1a1a" stroke-width="1.1" />
<rect x="434.40" y="582.70" width="7.00" height="2.3" rx="1" fill="#1d4a80" opacity="0.9"/>
<line x1="477.90" y1="461.90" x2="477.90" y2="523.50" stroke="#262626" stroke-width="0.9" />
<line x1="474.30" y1="461.90" x2="481.50" y2="461.90" stroke="#1a1a1a" stroke-width="1.1" />
<line x1="474.30" y1="523.50" x2="481.50" y2="523.50" stroke="#1a1a1a" stroke-width="1.1" />
<rect x="470.60" y="489.20" width="14.10" height="31.10" fill="none" stroke="#1a1a1a" stroke-width="1.1"/>
<line x1="470.60" y1="516.40" x2="484.70" y2="516.40" stroke="#1a1a1a" stroke-width="1.1" />
<circle cx="477.90" cy="461.90" r="1.1" fill="#c4001c"/>
<circle cx="477.90" cy="516.60" r="1.1" fill="#c4001c"/>
<circle cx="477.90" cy="523.50" r="1.1" fill="#c4001c"/>
<rect x="0.5" y="0.5" width="519" height="635" fill="none" stroke="#111" stroke-width="1.2"/>
</svg></body></html>
